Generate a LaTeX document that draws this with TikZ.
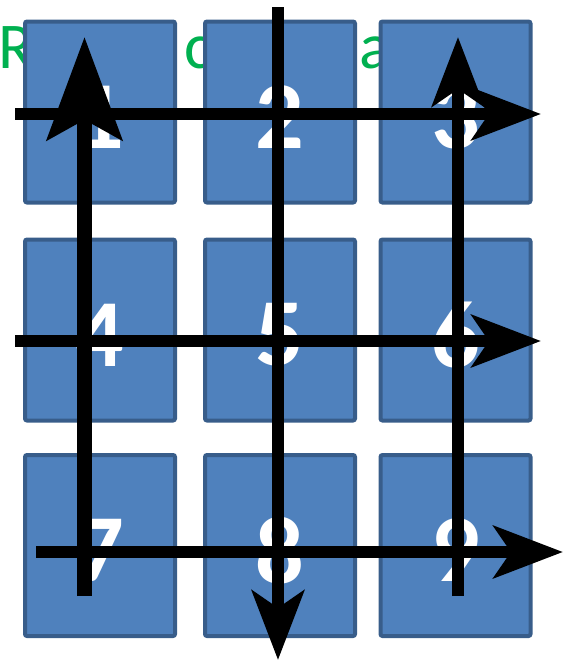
\documentclass[tikz,border=0pt]{standalone}
\usepackage{fontspec}
\setmainfont{Carlito}
\usetikzlibrary{arrows.meta}
\definecolor{boxfill}{HTML}{4F81BD}
\definecolor{boxline}{HTML}{385D8A}
\definecolor{hintgreen}{HTML}{00B050}
\begin{document}
\begin{tikzpicture}[x=0.75pt, y=-0.75pt,
    cell/.style={rectangle, draw=boxline, fill=boxfill, line width=3pt, rounded corners=1.5pt, minimum width=112.5pt, minimum height=135.75pt, inner sep=0pt},
    num/.style={text=white, font=\fontsize{72}{80}\selectfont\bfseries, inner sep=0pt},
    hint/.style={text=hintgreen, font=\fontsize{49}{58}\selectfont, inner sep=0pt, anchor=base west},
    bigsweep/.style={line width=11.25pt, -{Stealth[length=77pt, width=56pt, inset=15pt]}},
    sweep/.style={line width=9pt, -{Stealth[length=52pt, width=39pt, inset=13pt]}}
]
    \useasboundingbox (0,0) rectangle (569,662);

    % --- 1. GREEN TEXT (behind the cells) ---
    \node[hint] (h1) at (-2,68) {R};
    \node[hint] (h2) at (184,68) {c};
    \node[hint] (h3) at (359,68) {a};

    % --- 2. CELLS ---
    \node[cell] (b1) at (100,112) {}; \node[num] at ([yshift=-3.75pt]b1.center) {1};
    \node[cell] (b2) at (280,112) {}; \node[num] at ([yshift=-3.75pt]b2.center) {2};
    \node[cell] (b3) at (455.5,112) {}; \node[num] at ([yshift=-3.75pt]b3.center) {3};

    \node[cell] (b4) at (100,330) {}; \node[num] at ([yshift=-3.75pt]b4.center) {4};
    \node[cell] (b5) at (280,330) {}; \node[num] at ([yshift=-3.75pt]b5.center) {5};
    \node[cell] (b6) at (455.5,330) {}; \node[num] at ([yshift=-3.75pt]b6.center) {6};

    \node[cell] (b7) at (100,545.5) {}; \node[num] at ([yshift=-3.75pt]b7.center) {7};
    \node[cell] (b8) at (280,545.5) {}; \node[num] at ([yshift=-3.75pt]b8.center) {8};
    \node[cell] (b9) at (455.5,545.5) {}; \node[num] at ([yshift=-3.75pt]b9.center) {9};

    % --- 3. ARROWS ---
    \coordinate (up1s) at (84.5,596); \coordinate (up1e) at (84.5,37);
    \coordinate (down2s) at (278,7); \coordinate (down2e) at (278,660);
    \coordinate (up3s) at (458,596); \coordinate (up3e) at (458,37);
    \coordinate (row1s) at (15,114); \coordinate (row1e) at (541,114);
    \coordinate (row2s) at (15,341); \coordinate (row2e) at (541,341);
    \coordinate (row3s) at (36,552); \coordinate (row3e) at (563,552);

    \draw[bigsweep] (up1s) -- (up1e);
    \draw[sweep] (down2s) -- (down2e);
    \draw[sweep] (up3s) -- (up3e);
    \draw[sweep] (row1s) -- (row1e);
    \draw[sweep] (row2s) -- (row2e);
    \draw[sweep] (row3s) -- (row3e);
\end{tikzpicture}
\end{document}
